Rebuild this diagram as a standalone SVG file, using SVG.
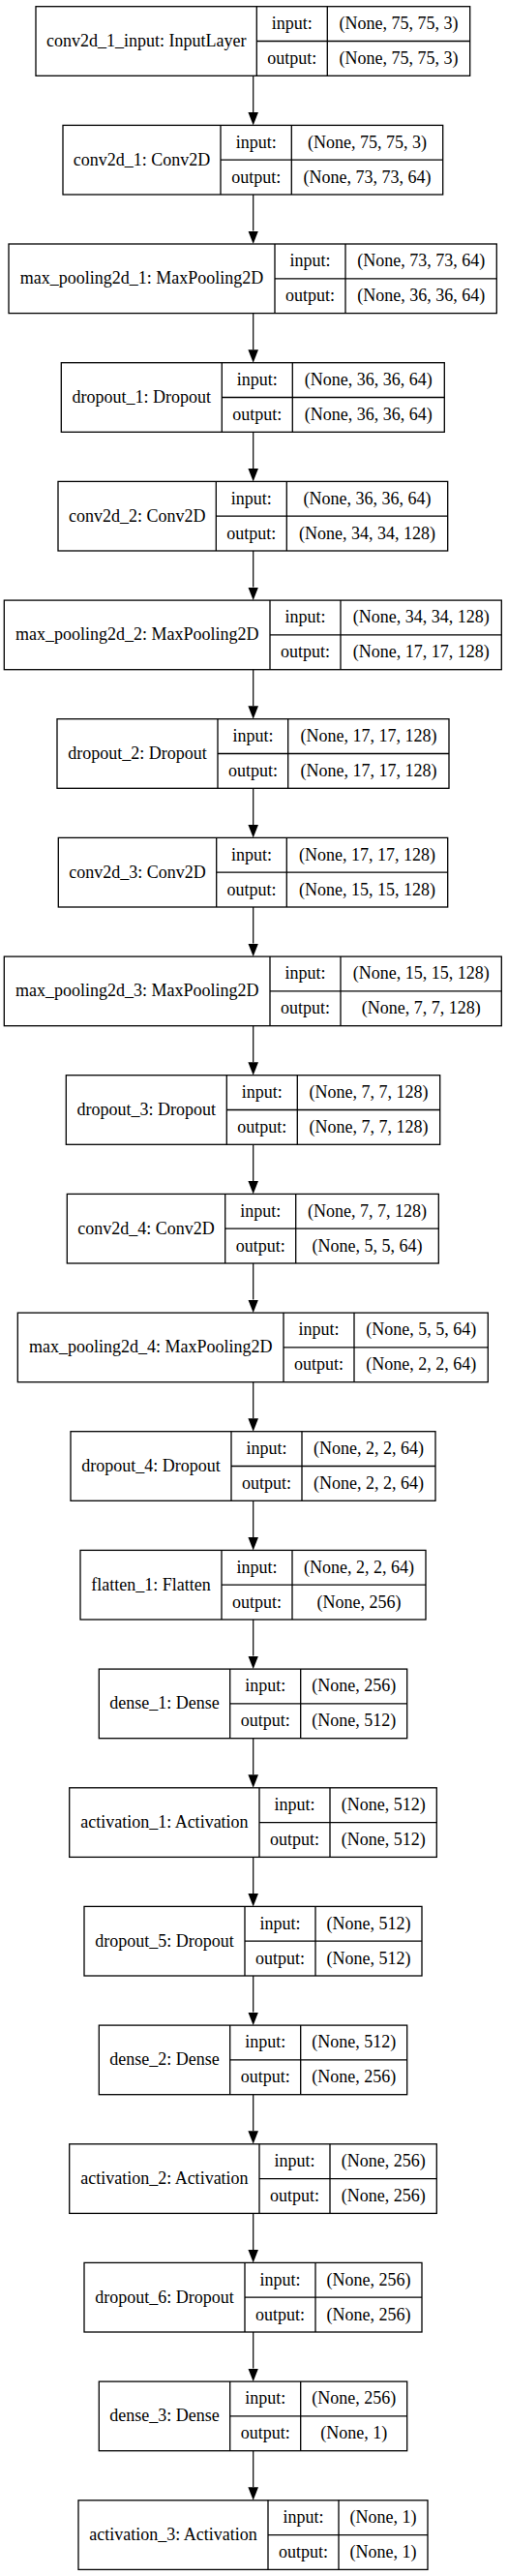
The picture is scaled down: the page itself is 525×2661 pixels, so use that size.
<svg xmlns="http://www.w3.org/2000/svg" width="525" height="2661" viewBox="0 0 525 2661">
<style>
.b{fill:#fff;stroke:#000;stroke-width:1.3}
.l{stroke:#000;stroke-width:1.3;fill:none}
text{font-family:"Liberation Serif","Times New Roman",serif;font-size:18px;fill:#000;text-anchor:middle}
.e{stroke:#000;stroke-width:1.2;fill:none;marker-end:url(#ah)}
</style>
<defs>
<marker id="ah" markerUnits="userSpaceOnUse" viewBox="0 0 13.5 10.6" markerWidth="13.5" markerHeight="10.6" refX="0" refY="5.3" orient="auto">
<path d="M0,0 L13.5,5.3 L0,10.6 Z" fill="#000"/>
</marker>
</defs>
<rect width="525" height="2661" fill="#fff"/>
<g id="edges">
<line class="e" x1="261.7" y1="78.3" x2="261.7" y2="115.9"/>
<line class="e" x1="261.7" y1="201" x2="261.7" y2="238.5"/>
<line class="e" x1="261.7" y1="323.6" x2="261.7" y2="361.2"/>
<line class="e" x1="261.7" y1="446.3" x2="261.7" y2="483.9"/>
<line class="e" x1="261.7" y1="569" x2="261.7" y2="606.6"/>
<line class="e" x1="261.7" y1="691.7" x2="261.7" y2="729.2"/>
<line class="e" x1="261.7" y1="814.3" x2="261.7" y2="851.9"/>
<line class="e" x1="261.7" y1="937" x2="261.7" y2="974.6"/>
<line class="e" x1="261.7" y1="1059.7" x2="261.7" y2="1097.2"/>
<line class="e" x1="261.7" y1="1182.3" x2="261.7" y2="1219.9"/>
<line class="e" x1="261.7" y1="1305" x2="261.7" y2="1342.6"/>
<line class="e" x1="261.7" y1="1427.7" x2="261.7" y2="1465.2"/>
<line class="e" x1="261.7" y1="1550.3" x2="261.7" y2="1587.9"/>
<line class="e" x1="261.7" y1="1673" x2="261.7" y2="1710.6"/>
<line class="e" x1="261.7" y1="1795.7" x2="261.7" y2="1833.3"/>
<line class="e" x1="261.7" y1="1918.4" x2="261.7" y2="1955.9"/>
<line class="e" x1="261.7" y1="2041" x2="261.7" y2="2078.6"/>
<line class="e" x1="261.7" y1="2163.7" x2="261.7" y2="2201.3"/>
<line class="e" x1="261.7" y1="2286.4" x2="261.7" y2="2323.9"/>
<line class="e" x1="261.7" y1="2409" x2="261.7" y2="2446.6"/>
<line class="e" x1="261.7" y1="2531.7" x2="261.7" y2="2569.3"/>
</g>
<g id="n0" transform="translate(0,6.7)">
<rect class="b" x="37" y="0" width="448.7" height="71.6"/>
<path class="l" d="M265.3,0V71.6M338.3,0V71.6M265.3,35.8H485.7"/>
<text x="151.2" y="41.3">conv2d_1_input: InputLayer</text>
<text x="301.8" y="23.4">input:</text><text x="301.8" y="59.2">output:</text>
<text x="412" y="23.4">(None, 75, 75, 3)</text><text x="412" y="59.2">(None, 75, 75, 3)</text>
</g>
<g id="n1" transform="translate(0,129.4)">
<rect class="b" x="65" y="0" width="392.7" height="71.6"/>
<path class="l" d="M228,0V71.6M301.3,0V71.6M228,35.8H457.7"/>
<text x="146.5" y="41.3">conv2d_1: Conv2D</text>
<text x="264.7" y="23.4">input:</text><text x="264.7" y="59.2">output:</text>
<text x="379.5" y="23.4">(None, 75, 75, 3)</text><text x="379.5" y="59.2">(None, 73, 73, 64)</text>
</g>
<g id="n2" transform="translate(0,252)">
<rect class="b" x="9" y="0" width="504.3" height="71.6"/>
<path class="l" d="M284,0V71.6M357,0V71.6M284,35.8H513.3"/>
<text x="146.5" y="41.3">max_pooling2d_1: MaxPooling2D</text>
<text x="320.5" y="23.4">input:</text><text x="320.5" y="59.2">output:</text>
<text x="435.2" y="23.4">(None, 73, 73, 64)</text><text x="435.2" y="59.2">(None, 36, 36, 64)</text>
</g>
<g id="n3" transform="translate(0,374.7)">
<rect class="b" x="63.3" y="0" width="396" height="71.6"/>
<path class="l" d="M229.3,0V71.6M302.3,0V71.6M229.3,35.8H459.3"/>
<text x="146.3" y="41.3">dropout_1: Dropout</text>
<text x="265.8" y="23.4">input:</text><text x="265.8" y="59.2">output:</text>
<text x="380.8" y="23.4">(None, 36, 36, 64)</text><text x="380.8" y="59.2">(None, 36, 36, 64)</text>
</g>
<g id="n4" transform="translate(0,497.4)">
<rect class="b" x="60" y="0" width="402.7" height="71.6"/>
<path class="l" d="M223.3,0V71.6M296.3,0V71.6M223.3,35.8H462.7"/>
<text x="141.7" y="41.3">conv2d_2: Conv2D</text>
<text x="259.8" y="23.4">input:</text><text x="259.8" y="59.2">output:</text>
<text x="379.5" y="23.4">(None, 36, 36, 64)</text><text x="379.5" y="59.2">(None, 34, 34, 128)</text>
</g>
<g id="n5" transform="translate(0,620.1)">
<rect class="b" x="4.3" y="0" width="514" height="71.6"/>
<path class="l" d="M279,0V71.6M352,0V71.6M279,35.8H518.3"/>
<text x="141.7" y="41.3">max_pooling2d_2: MaxPooling2D</text>
<text x="315.5" y="23.4">input:</text><text x="315.5" y="59.2">output:</text>
<text x="435.2" y="23.4">(None, 34, 34, 128)</text><text x="435.2" y="59.2">(None, 17, 17, 128)</text>
</g>
<g id="n6" transform="translate(0,742.7)">
<rect class="b" x="59" y="0" width="405" height="71.6"/>
<path class="l" d="M225,0V71.6M297.7,0V71.6M225,35.8H464"/>
<text x="142" y="41.3">dropout_2: Dropout</text>
<text x="261.4" y="23.4">input:</text><text x="261.4" y="59.2">output:</text>
<text x="380.9" y="23.4">(None, 17, 17, 128)</text><text x="380.9" y="59.2">(None, 17, 17, 128)</text>
</g>
<g id="n7" transform="translate(0,865.4)">
<rect class="b" x="60.3" y="0" width="402.4" height="71.6"/>
<path class="l" d="M223.7,0V71.6M296.3,0V71.6M223.7,35.8H462.7"/>
<text x="142" y="41.3">conv2d_3: Conv2D</text>
<text x="260" y="23.4">input:</text><text x="260" y="59.2">output:</text>
<text x="379.5" y="23.4">(None, 17, 17, 128)</text><text x="379.5" y="59.2">(None, 15, 15, 128)</text>
</g>
<g id="n8" transform="translate(0,988.1)">
<rect class="b" x="4.3" y="0" width="514" height="71.6"/>
<path class="l" d="M279,0V71.6M352,0V71.6M279,35.8H518.3"/>
<text x="141.7" y="41.3">max_pooling2d_3: MaxPooling2D</text>
<text x="315.5" y="23.4">input:</text><text x="315.5" y="59.2">output:</text>
<text x="435.2" y="23.4">(None, 15, 15, 128)</text><text x="435.2" y="59.2">(None, 7, 7, 128)</text>
</g>
<g id="n9" transform="translate(0,1110.7)">
<rect class="b" x="68.3" y="0" width="386.4" height="71.6"/>
<path class="l" d="M234.3,0V71.6M307.3,0V71.6M234.3,35.8H454.7"/>
<text x="151.3" y="41.3">dropout_3: Dropout</text>
<text x="270.8" y="23.4">input:</text><text x="270.8" y="59.2">output:</text>
<text x="381" y="23.4">(None, 7, 7, 128)</text><text x="381" y="59.2">(None, 7, 7, 128)</text>
</g>
<g id="n10" transform="translate(0,1233.4)">
<rect class="b" x="69.3" y="0" width="384" height="71.6"/>
<path class="l" d="M232.7,0V71.6M305.7,0V71.6M232.7,35.8H453.3"/>
<text x="151" y="41.3">conv2d_4: Conv2D</text>
<text x="269.2" y="23.4">input:</text><text x="269.2" y="59.2">output:</text>
<text x="379.5" y="23.4">(None, 7, 7, 128)</text><text x="379.5" y="59.2">(None, 5, 5, 64)</text>
</g>
<g id="n11" transform="translate(0,1356.1)">
<rect class="b" x="18.3" y="0" width="486" height="71.6"/>
<path class="l" d="M293,0V71.6M366,0V71.6M293,35.8H504.3"/>
<text x="155.7" y="41.3">max_pooling2d_4: MaxPooling2D</text>
<text x="329.5" y="23.4">input:</text><text x="329.5" y="59.2">output:</text>
<text x="435.2" y="23.4">(None, 5, 5, 64)</text><text x="435.2" y="59.2">(None, 2, 2, 64)</text>
</g>
<g id="n12" transform="translate(0,1478.7)">
<rect class="b" x="73" y="0" width="377" height="71.6"/>
<path class="l" d="M239,0V71.6M312,0V71.6M239,35.8H450"/>
<text x="156" y="41.3">dropout_4: Dropout</text>
<text x="275.5" y="23.4">input:</text><text x="275.5" y="59.2">output:</text>
<text x="381" y="23.4">(None, 2, 2, 64)</text><text x="381" y="59.2">(None, 2, 2, 64)</text>
</g>
<g id="n13" transform="translate(0,1601.4)">
<rect class="b" x="83" y="0" width="357" height="71.6"/>
<path class="l" d="M229,0V71.6M302,0V71.6M229,35.8H440"/>
<text x="156" y="41.3">flatten_1: Flatten</text>
<text x="265.5" y="23.4">input:</text><text x="265.5" y="59.2">output:</text>
<text x="371" y="23.4">(None, 2, 2, 64)</text><text x="371" y="59.2">(None, 256)</text>
</g>
<g id="n14" transform="translate(0,1724.1)">
<rect class="b" x="102.3" y="0" width="318.4" height="71.6"/>
<path class="l" d="M237.7,0V71.6M310.7,0V71.6M237.7,35.8H420.7"/>
<text x="170" y="41.3">dense_1: Dense</text>
<text x="274.2" y="23.4">input:</text><text x="274.2" y="59.2">output:</text>
<text x="365.7" y="23.4">(None, 256)</text><text x="365.7" y="59.2">(None, 512)</text>
</g>
<g id="n15" transform="translate(0,1846.8)">
<rect class="b" x="71.7" y="0" width="379.6" height="71.6"/>
<path class="l" d="M268,0V71.6M341,0V71.6M268,35.8H451.3"/>
<text x="169.9" y="41.3">activation_1: Activation</text>
<text x="304.5" y="23.4">input:</text><text x="304.5" y="59.2">output:</text>
<text x="396.2" y="23.4">(None, 512)</text><text x="396.2" y="59.2">(None, 512)</text>
</g>
<g id="n16" transform="translate(0,1969.4)">
<rect class="b" x="87" y="0" width="349" height="71.6"/>
<path class="l" d="M253,0V71.6M326,0V71.6M253,35.8H436"/>
<text x="170" y="41.3">dropout_5: Dropout</text>
<text x="289.5" y="23.4">input:</text><text x="289.5" y="59.2">output:</text>
<text x="381" y="23.4">(None, 512)</text><text x="381" y="59.2">(None, 512)</text>
</g>
<g id="n17" transform="translate(0,2092.1)">
<rect class="b" x="102.3" y="0" width="318.4" height="71.6"/>
<path class="l" d="M237.7,0V71.6M310.7,0V71.6M237.7,35.8H420.7"/>
<text x="170" y="41.3">dense_2: Dense</text>
<text x="274.2" y="23.4">input:</text><text x="274.2" y="59.2">output:</text>
<text x="365.7" y="23.4">(None, 512)</text><text x="365.7" y="59.2">(None, 256)</text>
</g>
<g id="n18" transform="translate(0,2214.8)">
<rect class="b" x="71.7" y="0" width="379.6" height="71.6"/>
<path class="l" d="M268,0V71.6M341,0V71.6M268,35.8H451.3"/>
<text x="169.9" y="41.3">activation_2: Activation</text>
<text x="304.5" y="23.4">input:</text><text x="304.5" y="59.2">output:</text>
<text x="396.2" y="23.4">(None, 256)</text><text x="396.2" y="59.2">(None, 256)</text>
</g>
<g id="n19" transform="translate(0,2337.4)">
<rect class="b" x="87" y="0" width="349" height="71.6"/>
<path class="l" d="M253,0V71.6M326,0V71.6M253,35.8H436"/>
<text x="170" y="41.3">dropout_6: Dropout</text>
<text x="289.5" y="23.4">input:</text><text x="289.5" y="59.2">output:</text>
<text x="381" y="23.4">(None, 256)</text><text x="381" y="59.2">(None, 256)</text>
</g>
<g id="n20" transform="translate(0,2460.1)">
<rect class="b" x="102.3" y="0" width="318.4" height="71.6"/>
<path class="l" d="M237.7,0V71.6M310.7,0V71.6M237.7,35.8H420.7"/>
<text x="170" y="41.3">dense_3: Dense</text>
<text x="274.2" y="23.4">input:</text><text x="274.2" y="59.2">output:</text>
<text x="365.7" y="23.4">(None, 256)</text><text x="365.7" y="59.2">(None, 1)</text>
</g>
<g id="n21" transform="translate(0,2582.8)">
<rect class="b" x="81" y="0" width="361" height="71.6"/>
<path class="l" d="M277,0V71.6M350,0V71.6M277,35.8H442"/>
<text x="179" y="41.3">activation_3: Activation</text>
<text x="313.5" y="23.4">input:</text><text x="313.5" y="59.2">output:</text>
<text x="396" y="23.4">(None, 1)</text><text x="396" y="59.2">(None, 1)</text>
</g>
</svg>
